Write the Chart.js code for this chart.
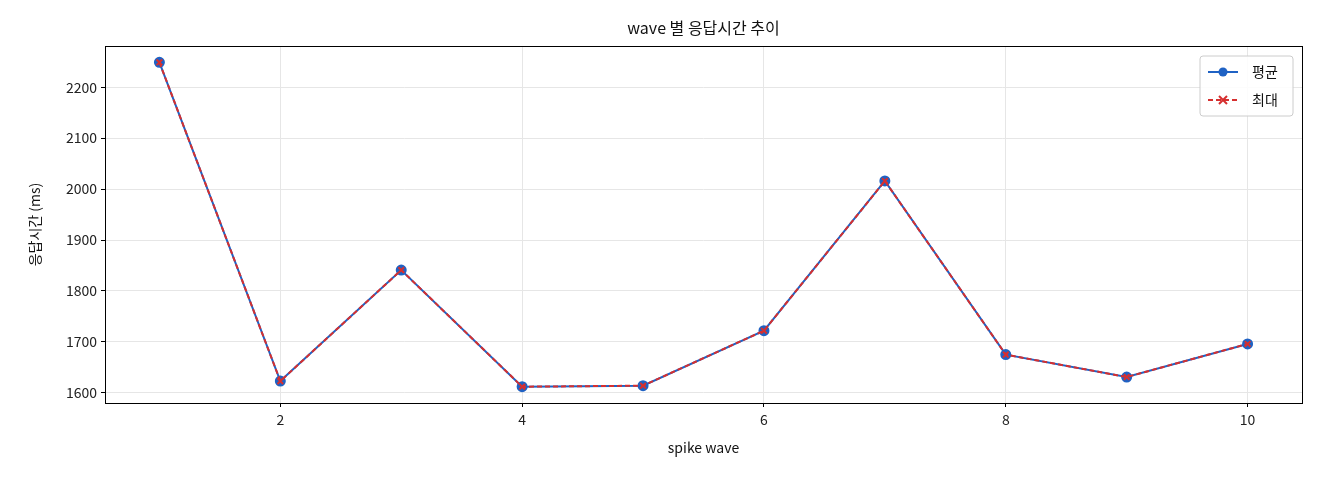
<!DOCTYPE html>
<html><head><meta charset="utf-8">
<script src="https://cdn.jsdelivr.net/npm/chart.js@4/dist/chart.umd.min.js"></script>
<style>html,body{margin:0;background:#fff}#wrap{width:1320px;height:480px}</style>
</head><body><div id="wrap"><canvas id="c"></canvas></div>
<script>
const waves = [1, 2, 3, 4, 5, 6, 7, 8, 9, 10]
const avgMs = [2249, 1623, 1841, 1612, 1614, 1722, 2016, 1675, 1631, 1696]
const maxMs = [2249, 1623, 1841, 1612, 1614, 1722, 2016, 1675, 1631, 1696]
const xTicks = [2, 4, 6, 8, 10]
const yTicks = [1600, 1700, 1800, 1900, 2000, 2100, 2200]

const FONT = "'Noto Sans CJK KR', 'Noto Sans', sans-serif"
const BLUE = '#1f62c4'
const RED = '#d62f2f'

// ── frame, title and legend drawn inside the plot ──
const extras = {
	id: 'extras',
	afterDraw(chart) {
		const { ctx, chartArea: a } = chart
		ctx.save()
		ctx.strokeStyle = '#000'
		ctx.lineWidth = 1
		ctx.strokeRect(a.left + 0.5, a.top + 0.5, a.right - a.left, a.bottom - a.top)
		ctx.fillStyle = '#111'
		ctx.font = '16px ' + FONT
		ctx.textAlign = 'center'
		ctx.textBaseline = 'middle'
		ctx.fillText('wave 별 응답시간 추이', (a.left + a.right) / 2, 28)
		// legend
		const bx = a.right - 102, by = a.top + 10, bw = 93, bh = 60
		ctx.fillStyle = 'rgba(255,255,255,0.85)'
		ctx.strokeStyle = '#ccc'
		ctx.beginPath(); ctx.roundRect(bx, by, bw, bh, 3); ctx.fill(); ctx.stroke()
		const rows = [['평균', BLUE, [], 'dot'], ['최대', RED, [5, 3], 'x']]
		rows.forEach((r, i) => {
			const y = by + 16 + i * 28
			ctx.strokeStyle = r[1]; ctx.lineWidth = 2; ctx.setLineDash(r[2])
			ctx.beginPath(); ctx.moveTo(bx + 8, y); ctx.lineTo(bx + 38, y); ctx.stroke()
			ctx.setLineDash([])
			if (r[3] === 'dot') {
				ctx.fillStyle = r[1]; ctx.beginPath(); ctx.arc(bx + 23, y, 4.5, 0, Math.PI * 2); ctx.fill()
			} else {
				ctx.beginPath(); ctx.moveTo(bx + 19, y - 4); ctx.lineTo(bx + 27, y + 4)
				ctx.moveTo(bx + 27, y - 4); ctx.lineTo(bx + 19, y + 4); ctx.stroke()
			}
			ctx.fillStyle = '#111'; ctx.font = '14px ' + FONT; ctx.textAlign = 'left'
			ctx.fillText(r[0], bx + 52, y)
		})
		ctx.restore()
	},
}

new Chart(document.getElementById('c'), {
	type: 'line',
	data: {
		datasets: [
			{
				label: '평균',
				data: waves.map((w, i) => ({ x: w, y: avgMs[i] })),
				borderColor: BLUE,
				backgroundColor: BLUE,
				borderWidth: 2,
				pointRadius: 4.5,
				pointStyle: 'circle',
				tension: 0,
				order: 2,
			},
			{
				label: '최대',
				data: waves.map((w, i) => ({ x: w, y: maxMs[i] })),
				borderColor: RED,
				backgroundColor: RED,
				borderWidth: 2,
				borderDash: [5, 3],
				pointRadius: 4,
				pointStyle: 'crossRot',
				pointBorderWidth: 2,
				tension: 0,
				order: 1,
			},
		],
	},
	options: {
		responsive: true,
		maintainAspectRatio: false,
		animation: false,
		layout: { padding: { top: 46, right: 18, left: 22, bottom: 20 } },
		plugins: { legend: { display: false }, tooltip: { enabled: false } },
		scales: {
			x: {
				type: 'linear',
				min: 0.55,
				max: 10.45,
				afterBuildTicks: s => { s.ticks = xTicks.map(v => ({ value: v })) },
				afterFit: s => { s.height = 57 },
				ticks: { color: '#222', font: { size: 14, family: FONT }, padding: 4, callback: v => String(v) },
				grid: { color: '#e6e6e6', drawTicks: true, tickLength: 4, tickColor: '#000' },
				border: { display: false },
				title: { display: true, text: 'spike wave', color: '#111', font: { size: 14, family: FONT }, padding: { top: 2 } },
			},
			y: {
				min: 1580,
				max: 2281,
				afterBuildTicks: s => { s.ticks = yTicks.map(v => ({ value: v })) },
				afterFit: s => { s.width = 83 },
				ticks: { color: '#222', font: { size: 14, family: FONT }, padding: 4, callback: v => String(v) },
				grid: { color: '#e6e6e6', drawTicks: true, tickLength: 4, tickColor: '#000' },
				border: { display: false },
				title: { display: true, text: '응답시간 (ms)', color: '#111', font: { size: 14, family: FONT }, padding: { bottom: 4 } },
			},
		},
	},
	plugins: [extras],
})
</script></body></html>
